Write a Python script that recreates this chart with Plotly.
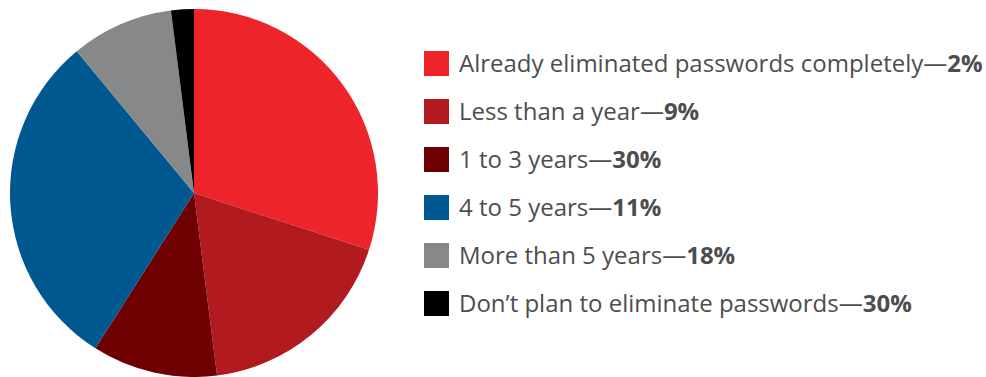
import plotly.graph_objects as go

# Data as drawn in the reference
labels = [
    "Already eliminated passwords completely",
    "Less than a year",
    "1 to 3 years",
    "4 to 5 years",
    "More than 5 years",
    "Don\u2019t plan to eliminate passwords",
]
legend_pct = [2, 9, 30, 11, 18, 30]          # percentages printed in the legend
slice_values = [30, 18, 11, 30, 9, 2]        # slice sizes as drawn in the pie
colors = ["#EE242B", "#B11A1F", "#6E0002", "#005891", "#87888A", "#000000"]

W, H = 986, 377
TEXT_COLOR = "#4D4D4F"
FONT = "Open Sans"

fig = go.Figure()
fig.add_trace(go.Pie(
    labels=labels,
    values=slice_values,
    sort=False,
    direction="clockwise",
    rotation=0,
    marker=dict(colors=colors, line=dict(width=0)),
    textinfo="none",
    hoverinfo="label+percent",
    showlegend=False,
    domain=dict(x=[10 / W, 378 / W], y=[0, 368 / H]),
))

# Manual legend
row0, step = 63.5, 48
sq = 25
shapes, annotations = [], []
for i, (lab, pct, col) in enumerate(zip(labels, legend_pct, colors)):
    cy = row0 + i * step
    shapes.append(dict(
        type="rect", xref="paper", yref="paper",
        x0=424 / W, x1=(424 + sq) / W,
        y0=1 - (cy - sq / 2) / H, y1=1 - (cy + sq / 2) / H,
        fillcolor=col, line=dict(width=0),
    ))
    annotations.append(dict(
        xref="paper", yref="paper", x=457 / W, y=1 - (cy - 1) / H,
        xanchor="left", yanchor="middle", showarrow=False,
        text=f"{lab}\u2014<b>{pct}%</b>",
        font=dict(family=FONT, size=24, color=TEXT_COLOR),
    ))

fig.update_layout(
    width=W, height=H,
    margin=dict(l=0, r=0, t=0, b=0),
    paper_bgcolor="white", plot_bgcolor="white",
    shapes=shapes, annotations=annotations,
)

fig.write_html("out.html")
